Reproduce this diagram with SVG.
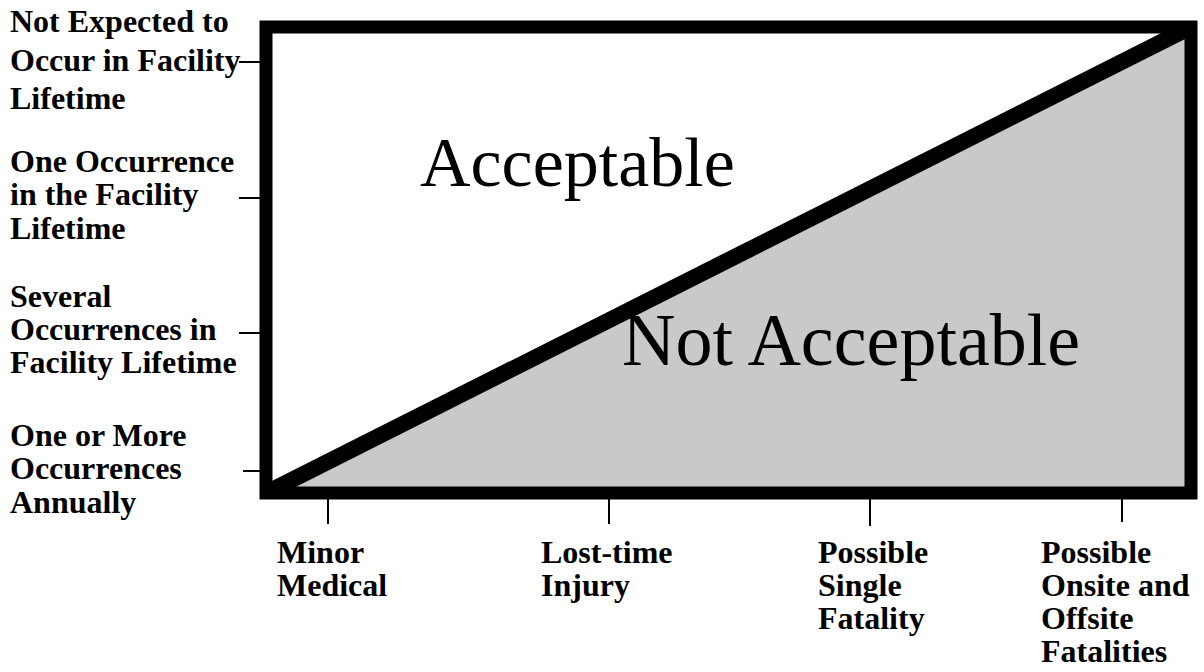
<svg xmlns="http://www.w3.org/2000/svg" width="1204" height="672" viewBox="0 0 1204 672">
  <style>
    .lbl { font-family: "Liberation Serif", "Times New Roman", serif; font-weight: bold; font-size: 32px; fill: #000; }
    .big { font-family: "Liberation Serif", "Times New Roman", serif; fill: #000; }
    .tick { stroke: #000; stroke-width: 2; fill: none; }
  </style>
  <defs>
    <clipPath id="frameClip"><rect x="260" y="21" width="937" height="478"/></clipPath>
  </defs>
  <rect x="0" y="0" width="1204" height="672" fill="#fff"/>

  <g id="chart">
    <polygon id="not-acceptable-region" points="270,493 1191,27 1191,493" fill="#c9c9c9"/>
    <line x1="266" y1="493" x2="1191" y2="27" stroke="#000" stroke-width="16" clip-path="url(#frameClip)"/>
    <rect id="frame" x="266" y="27" width="925" height="466" fill="none" stroke="#000" stroke-width="13"/>
  </g>

  <g id="connectors">
    <line class="tick" x1="239" y1="62" x2="260" y2="62"/>
    <line class="tick" x1="239" y1="198" x2="260" y2="198"/>
    <line class="tick" x1="239" y1="333" x2="260" y2="333"/>
    <line class="tick" x1="243" y1="471" x2="260" y2="471"/>
    <line class="tick" x1="328" y1="499" x2="328" y2="524"/>
    <line class="tick" x1="609" y1="499" x2="609" y2="524"/>
    <line class="tick" x1="870" y1="499" x2="870" y2="526"/>
    <line class="tick" x1="1122" y1="499" x2="1122" y2="522"/>
  </g>

  <g id="region-acceptable"><text class="big" x="420" y="186" font-size="70">Acceptable</text></g>
  <g id="region-not-acceptable"><text class="big" x="622" y="365" font-size="74">Not Acceptable</text></g>

  <g id="y-label-1">
    <text class="lbl" x="10" y="32">Not Expected to</text>
    <text class="lbl" x="10" y="71">Occur in Facility</text>
    <text class="lbl" x="10" y="109">Lifetime</text>
  </g>
  <g id="y-label-2">
    <text class="lbl" x="10" y="172">One Occurrence</text>
    <text class="lbl" x="10" y="205">in the Facility</text>
    <text class="lbl" x="10" y="239">Lifetime</text>
  </g>
  <g id="y-label-3">
    <text class="lbl" x="10" y="307">Several</text>
    <text class="lbl" x="10" y="340">Occurrences in</text>
    <text class="lbl" x="10" y="373">Facility Lifetime</text>
  </g>
  <g id="y-label-4">
    <text class="lbl" x="10" y="446">One or More</text>
    <text class="lbl" x="10" y="479">Occurrences</text>
    <text class="lbl" x="10" y="513">Annually</text>
  </g>

  <g id="x-label-1">
    <text class="lbl" x="277" y="563">Minor</text>
    <text class="lbl" x="277" y="596">Medical</text>
  </g>
  <g id="x-label-2">
    <text class="lbl" x="541" y="563">Lost-time</text>
    <text class="lbl" x="541" y="596">Injury</text>
  </g>
  <g id="x-label-3">
    <text class="lbl" x="818" y="563">Possible</text>
    <text class="lbl" x="818" y="596">Single</text>
    <text class="lbl" x="818" y="629">Fatality</text>
  </g>
  <g id="x-label-4">
    <text class="lbl" x="1041" y="563">Possible</text>
    <text class="lbl" x="1041" y="596">Onsite and</text>
    <text class="lbl" x="1041" y="629">Offsite</text>
    <text class="lbl" x="1041" y="662">Fatalities</text>
  </g>
</svg>
